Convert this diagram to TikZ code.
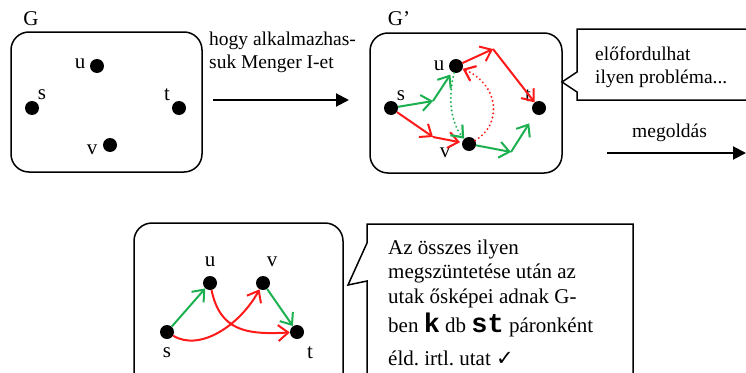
\documentclass[tikz,border=0pt]{standalone}
\usepackage{fontspec}
\setmainfont{Liberation Serif}
\newfontfamily\monob{Liberation Mono}
\newfontfamily\symf{DejaVu Sans}
\usetikzlibrary{arrows.meta}
\definecolor{myred}{HTML}{FF1A1A}
\definecolor{mygreen}{HTML}{1DB050}
\frenchspacing
\begin{document}
\begin{tikzpicture}[x=1pt,y=-1pt,
  dot/.style={circle,fill=black,inner sep=0pt,minimum size=14pt},
  lbl/.style={font=\fontsize{21}{21}\selectfont,inner sep=0pt},
  txt/.style={font=\fontsize{19.5}{23}\selectfont,inner sep=0pt,align=left},
  txtb/.style={font=\fontsize{21}{24.5}\selectfont,inner sep=0pt,align=left},
  gbox/.style={draw,line width=1.5pt,rounded corners=18pt},
  callout/.style={draw,line width=1.5pt},
  barb/.style={-{Straight Barb[length=10pt,width=16pt]}},
  rE/.style={myred,line width=2pt,barb},
  gE/.style={mygreen,line width=2pt,barb},
  rD/.style={myred,line width=2.2pt,line cap=round,dash pattern=on 0.01pt off 4.2pt,barb},
  gD/.style={mygreen,line width=2.2pt,line cap=round,dash pattern=on 0.01pt off 4.2pt,barb},
  bigarrow/.style={line width=2pt,-{Triangle[length=13pt,width=13pt]}}
]
\clip (0,0) rectangle (746,372);
\fill[white] (0,0) rectangle (746,372);

% ---------- G ----------
\node[lbl] (Glbl) at (31,19) {G};
\draw[gbox] (11,32) rectangle (202,172);
\node[dot] (gu) at (97,66) {};
\node[dot] (gs) at (32,108) {};
\node[dot] (gt) at (179,108) {};
\node[dot] (gv) at (110,145) {};
\node[lbl] (gul) at (80,64) {u};
\node[lbl] (gsl) at (42,95) {s};
\node[lbl] (gtl) at (167,95) {t};
\node[lbl] (gvl) at (92,150) {v};

% arrow 1
\node[txt,anchor=base west] (a1txt) at (209,68) {hogy alkalmazhas-\\suk Menger I-et};
\coordinate (a1s) at (213,100);
\coordinate (a1e) at (349,100);
\draw[bigarrow] (a1s) -- (a1e);

% ---------- G' ----------
\node[lbl] (Hlbl) at (399,19) {G’};
\draw[gbox] (370,33) rectangle (562,173);
\node[dot] (hu) at (456,66) {};
\node[dot] (hs) at (391,108) {};
\node[dot] (ht) at (539,108) {};
\node[dot] (hv) at (469,144) {};
\node[lbl] (hul) at (439,66) {u};
\node[lbl] (hsl) at (401,96) {s};
\node[lbl] (htl) at (528,96) {t};
\node[lbl] (hvl) at (445,153) {v};

\coordinate (p1) at (433,101);
\coordinate (p2) at (433,137);
\coordinate (p3) at (511,152);
\coordinate (p4) at (493,49);
\draw[gE] (hs) -- (p1);
\draw[gE,shorten >=3pt] (p1) -- (hu);
\draw[rE] (hs) -- (p2);
\draw[rE,shorten >=2pt] (p2) -- (hv);
\draw[gE] (hv) -- (p3);
\draw[gE,shorten >=11pt] (p3) -- (ht);
\draw[rE] (hu) -- (p4);
\draw[rE] (p4) -- (ht);
\draw[gD] (hu) .. controls (447,100) and (452,125) .. (hv);
\draw[rD] (hv) .. controls (502,125) and (500,85) .. (hu);

% callout 1
\draw[callout] (760,29) -- (577,29) -- (577,72) -- (562,82) -- (577,92) -- (577,100) -- (760,100);
\node[txt,anchor=base west] (c1txt) at (595,83) {előfordulhat\\ilyen probléma...};

% megoldas arrow
\node[txt,anchor=base west] (a2txt) at (632,137) {megoldás};
\coordinate (a2s) at (607,153);
\coordinate (a2e) at (746,153);
\draw[bigarrow] (a2s) -- (a2e);

% ---------- bottom graph ----------
\draw[gbox] (134,223) rectangle (343,400);
\node[dot] (bu) at (210,283) {};
\node[dot] (bv) at (263,283) {};
\node[dot] (bs) at (167,332) {};
\node[dot] (bt) at (297,332) {};
\node[lbl] (bul) at (210,262) {u};
\node[lbl] (bvl) at (272,262) {v};
\node[lbl] (bsl) at (167,353) {s};
\node[lbl] (btl) at (310,353) {t};
\draw[gE] (bs) -- (bu);
\draw[gE] (bv) -- (bt);
\draw[rE] (bs) .. controls (200,352) and (240,325) .. (bv);
\draw[rE] (bu) .. controls (220,330) and (245,335) .. (bt);

% callout 2
\draw[callout] (367,400) -- (367,281) -- (348,285) -- (367,243) -- (367,224) -- (633,224) -- (633,400);
\node[txtb,anchor=base west] (c2txt) at (388,365) {Az összes ilyen\\megszüntetése után az\\utak ősképei adnak G-\\[5pt]ben {\monob\bfseries\fontsize{27}{27}\selectfont k} db {\monob\bfseries\fontsize{27}{27}\selectfont st} páronként\\[8pt]éld. irtl. utat {\symf\fontsize{21}{21}\selectfont ✓}};
\end{tikzpicture}
\end{document}
